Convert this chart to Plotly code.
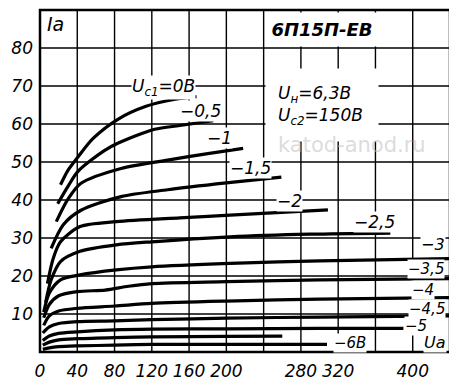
import plotly.graph_objects as go

# ---- data (anode voltage, V ; anode current, mA) ----
ua_0 = [22, 30, 41, 57, 84, 113, 145, 168]
ia_0 = [44, 47.8, 51.4, 56.2, 61.3, 64.6, 66.5, 67.2]

ua_05 = [19, 30, 41, 69, 84, 123, 150, 186]
ia_05 = [39, 43.6, 47.6, 53, 55, 58.6, 59.6, 60.9]

ua_1 = [17.5, 30, 44, 87, 137, 180, 218]
ia_1 = [34.3, 40.2, 44.4, 48.3, 50.5, 52.2, 53.6]

ua_15 = [12, 25, 44, 87, 137, 200, 259]
ia_15 = [27.3, 33.5, 37.3, 40.9, 42.7, 44.5, 46]

ua_2 = [8, 14, 22, 43, 82, 150, 204, 309]
ia_2 = [18, 24.5, 29, 33, 34.3, 35.3, 36, 37.4]

ua_25 = [6, 12, 22, 43, 82, 120, 204, 290, 376]
ia_25 = [13, 19, 23.8, 26.5, 28.2, 29, 30.3, 31, 31.3]

ua_3 = [4, 10, 22, 43, 82, 120, 204, 300, 440]
ia_3 = [10.5, 15.5, 19, 20.3, 21.6, 22.4, 23.3, 24, 24.6]

ua_35 = [4, 10, 20, 40, 70, 95, 120, 200, 300, 440]
ia_35 = [9, 12.5, 14.8, 15.9, 16.3, 17.3, 18, 18.5, 19, 19.3]

ua_4 = [4, 10, 20, 40, 80, 120, 200, 300, 440]
ia_4 = [7, 9.5, 10.8, 11.5, 12.1, 12.8, 13.4, 13.9, 14.3]

ua_45 = [3, 10, 20, 40, 80, 120, 200, 300, 440]
ia_45 = [5, 6.6, 7.5, 8, 8.2, 8.5, 8.9, 9.2, 9.5]

ua_5 = [3, 10, 20, 40, 80, 120, 200, 300, 390]
ia_5 = [3, 4.2, 4.9, 5.3, 5.8, 6, 6.1, 6.2, 6.2]

ua_55 = [3, 10, 20, 40, 80, 120, 200, 260]
ia_55 = [1.8, 2.6, 3.2, 3.5, 3.8, 4, 4.1, 4.2]

ua_6 = [3, 10, 20, 40, 80, 120, 200, 308]
ia_6 = [0.7, 1.1, 1.4, 1.6, 1.8, 2, 2, 2]

x_ticks = [0, 40, 80, 120, 160, 200, 240, 280, 320, 360, 400, 440]
x_labels = ["0", "40", "80", "120", "160", "200", " ", "280", "320", " ", "400", " "]
y_ticks = [0, 10, 20, 30, 40, 50, 60, 70, 80, 90]
y_labels = [" ", "10", "20", "30", "40", "50", "60", "70", "80", " "]

curves = [
    (ua_0, ia_0), (ua_05, ia_05), (ua_1, ia_1), (ua_15, ia_15),
    (ua_2, ia_2), (ua_25, ia_25), (ua_3, ia_3), (ua_35, ia_35),
    (ua_4, ia_4), (ua_45, ia_45), (ua_5, ia_5), (ua_55, ia_55), (ua_6, ia_6),
]

FONT = "DejaVu Sans"

fig = go.Figure()

# grid drawn from the tick arrays
gx, gy = [], []
for v in x_ticks:
    gx += [v, v, None]
    gy += [y_ticks[0], y_ticks[-1], None]
for i in y_ticks:
    gx += [x_ticks[0], x_ticks[-1], None]
    gy += [i, i, None]
fig.add_trace(go.Scatter(x=gx, y=gy, mode="lines", line=dict(color="black", width=1.4),
                         hoverinfo="skip", showlegend=False))

for xs, ys in curves:
    fig.add_trace(go.Scatter(
        x=xs, y=ys, mode="lines",
        line=dict(color="black", width=3.2, shape="spline", smoothing=0.8),
        hoverinfo="skip", showlegend=False,
    ))

def lab(text, x, y, size=17, bg="white", xanchor="center"):
    fig.add_annotation(
        x=x, y=y, xref="x", yref="y", text="<i>" + text + "</i>", showarrow=False,
        font=dict(family=FONT, size=size, color="black"),
        bgcolor=bg, xanchor=xanchor, yanchor="middle", borderpad=0,
    )

# curve labels
lab("U<sub>с1</sub>=0В", 132, 69.7)
lab("−0,5", 172, 63.4)
lab("−1", 193, 56.3)
lab("−1,5", 226, 48.4)
lab("−2", 268, 39.7)
lab("−2,5", 359, 34.2)
lab("−3", 422, 28.4, size=16)
lab("−3,5", 414, 21.8, size=15)
lab("−4", 411, 16.2, size=15)
lab("−4,5", 415, 11.4, size=15)
lab("−5", 404, 6.9, size=15)
lab("−6В", 333, 2.4, size=15)
lab("Uа", 424, 2.4, size=16)

# header boxes
fig.add_annotation(
    x=303, y=84.9, xref="x", yref="y", text="<b><i>6П15П-ЕВ</i></b>", showarrow=False,
    font=dict(family=FONT, size=18, color="black"),
    bgcolor="white", width=112, height=33, borderpad=0,
)
fig.add_annotation(
    x=303, y=65.0, xref="x", yref="y", text=" ", showarrow=False,
    bgcolor="white", width=112, height=72, borderpad=0,
)
fig.add_annotation(
    x=253, y=65.0, xref="x", yref="y", xanchor="left",
    text="<i>U<sub>н</sub>=6,3В<br>U<sub>с2</sub>=150В</i>", showarrow=False,
    font=dict(family=FONT, size=17, color="black"), align="left",
)

# watermark
fig.add_annotation(
    x=335, y=54.5, xref="x", yref="y", text="katod-anod.ru", showarrow=False,
    font=dict(family="DejaVu Sans", size=21, color="rgba(190,190,190,0.55)"),
)

# axis titles
fig.add_annotation(x=-29, y=87.0, xref="x", yref="y", text="<i>мА</i>", showarrow=False,
                   font=dict(family=FONT, size=15, color="black"))
fig.add_annotation(x=5, y=86.2, xref="x", yref="y", text="<i>Iа</i>", showarrow=False, xanchor="left",
                   font=dict(family=FONT, size=19, color="black"))
fig.add_annotation(x=430, y=-6.0, xref="x", yref="y", text="<i>В</i>", showarrow=False,
                   font=dict(family=FONT, size=17, color="black"))

# outer frame
fig.add_shape(type="rect", xref="paper", yref="paper", x0=0, y0=0, x1=1, y1=1,
              line=dict(color="black", width=2.5), layer="above")

axis_common = dict(
    showline=False, showgrid=False, zeroline=False, ticks="",
    tickfont=dict(family=FONT, size=17, color="black"),
)

fig.update_layout(
    width=449, height=378,
    margin=dict(l=32, r=7, t=2, b=34, autoexpand=False),
    plot_bgcolor="white", paper_bgcolor="white",
    showlegend=False,
    xaxis=dict(range=[0, 440], tickmode="array", tickvals=x_ticks, ticklabelstandoff=7,
               ticktext=["<i>" + t + "</i>" for t in x_labels], **axis_common),
    yaxis=dict(range=[0, 90], tickmode="array", tickvals=y_ticks, ticklabelstandoff=6,
               ticktext=["<i>" + t + "</i>" for t in y_labels], **axis_common),
)

fig.write_html("out.html")
